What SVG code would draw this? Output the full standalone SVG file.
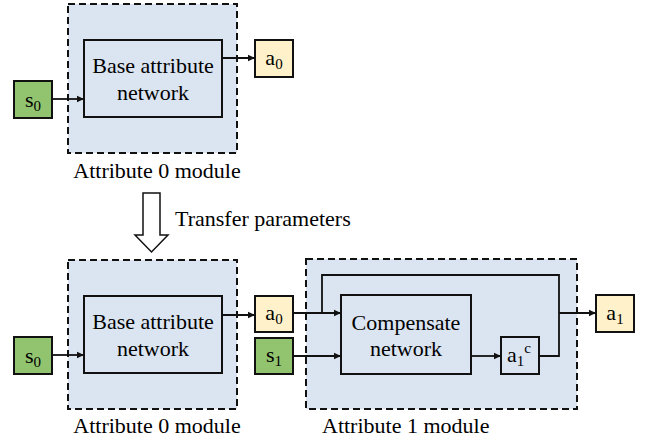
<svg xmlns="http://www.w3.org/2000/svg" width="651" height="445" viewBox="0 0 651 445">
<style>
.mod{fill:#dbe5f1;stroke:#111;stroke-width:2;stroke-dasharray:7,4}
.box{fill:#dbe5f1;stroke:#111;stroke-width:2}
.g{fill:#92c46f;stroke:#111;stroke-width:2}
.y{fill:#fff1c9;stroke:#111;stroke-width:2}
.c{fill:none;stroke:#111;stroke-width:1.8}
</style>
<defs>
<marker id="ah" markerUnits="userSpaceOnUse" markerWidth="8" markerHeight="8" refX="7" refY="4" orient="auto">
<path d="M0,0.8 L7,4 L0,7.2 Z" fill="#111"/>
</marker>
</defs>
<rect width="651" height="445" fill="#fff"/>
<g font-family="Liberation Serif" font-size="22">
<g id="module0-top">
<rect class="mod" x="68" y="4" width="169" height="149"/>
<text font-family="Liberation Serif" x="157" y="178" text-anchor="middle">Attribute 0 module</text>
</g>
<g id="base-top">
<rect class="box" x="84" y="40" width="138" height="77"/>
<text font-family="Liberation Serif" x="153" y="73" text-anchor="middle">Base attribute</text>
<text font-family="Liberation Serif" x="153" y="100" text-anchor="middle">network</text>
</g>
<g id="s0-top">
<rect class="g" x="14" y="81" width="38" height="37"/>
<text font-family="Liberation Serif" x="33" y="107" text-anchor="middle">s<tspan font-size="15" dy="4">0</tspan></text>
</g>
<g id="a0-top">
<rect class="y" x="255" y="40" width="38" height="37"/>
<text font-family="Liberation Serif" x="274" y="65" text-anchor="middle">a<tspan font-size="15" dy="4">0</tspan></text>
</g>
<g id="transfer">
<polygon points="143,193 160,193 160,235 168,235 151.5,252 135,235 143,235" fill="#fff" stroke="#111" stroke-width="1.5"/>
<text font-family="Liberation Serif" x="175" y="226">Transfer parameters</text>
</g>
<g id="module0-bottom">
<rect class="mod" x="68" y="260" width="169" height="149"/>
<text font-family="Liberation Serif" x="157" y="433" text-anchor="middle">Attribute 0 module</text>
</g>
<g id="base-bottom">
<rect class="box" x="84" y="296" width="138" height="77"/>
<text font-family="Liberation Serif" x="153" y="329" text-anchor="middle">Base attribute</text>
<text font-family="Liberation Serif" x="153" y="356" text-anchor="middle">network</text>
</g>
<g id="s0-bottom">
<rect class="g" x="14" y="337" width="38" height="37"/>
<text font-family="Liberation Serif" x="33" y="363" text-anchor="middle">s<tspan font-size="15" dy="4">0</tspan></text>
</g>
<g id="a0-bottom">
<rect class="y" x="255" y="296" width="38" height="36"/>
<text font-family="Liberation Serif" x="274" y="320" text-anchor="middle">a<tspan font-size="15" dy="4">0</tspan></text>
</g>
<g id="s1">
<rect class="g" x="255" y="338" width="38" height="36"/>
<text font-family="Liberation Serif" x="274" y="362" text-anchor="middle">s<tspan font-size="15" dy="4">1</tspan></text>
</g>
<g id="module1">
<rect class="mod" x="306" y="259" width="271" height="150"/>
<text font-family="Liberation Serif" x="322" y="433">Attribute 1 module</text>
</g>
<g id="compensate">
<rect class="box" x="341" y="295" width="130" height="79"/>
<text font-family="Liberation Serif" x="406" y="330" text-anchor="middle">Compensate</text>
<text font-family="Liberation Serif" x="406" y="356" text-anchor="middle">network</text>
</g>
<g id="a1c">
<rect class="box" x="501" y="337" width="38" height="37"/>
<text font-family="Liberation Serif" x="519" y="362" text-anchor="middle">a<tspan font-size="15" dy="4">1</tspan><tspan font-size="15" dy="-13">c</tspan></text>
</g>
<g id="a1">
<rect class="y" x="596" y="295" width="38" height="37"/>
<text font-family="Liberation Serif" x="615" y="320" text-anchor="middle">a<tspan font-size="15" dy="4">1</tspan></text>
</g>
</g>
<g id="connectors">
<line class="c" x1="52" y1="99" x2="84" y2="99" marker-end="url(#ah)"/>
<line class="c" x1="222" y1="58" x2="255" y2="58" marker-end="url(#ah)"/>
<line class="c" x1="52" y1="355" x2="84" y2="355" marker-end="url(#ah)"/>
<line class="c" x1="222" y1="315" x2="255" y2="315" marker-end="url(#ah)"/>
<line class="c" x1="293" y1="313" x2="341" y2="313" marker-end="url(#ah)"/>
<line class="c" x1="293" y1="356" x2="341" y2="356" marker-end="url(#ah)"/>
<line class="c" x1="471" y1="356" x2="501" y2="356" marker-end="url(#ah)"/>
<path class="c" d="M322,313 V275 H559 V356 H539"/>
<line class="c" x1="559" y1="313" x2="596" y2="313" marker-end="url(#ah)"/>
</g>
</svg>
